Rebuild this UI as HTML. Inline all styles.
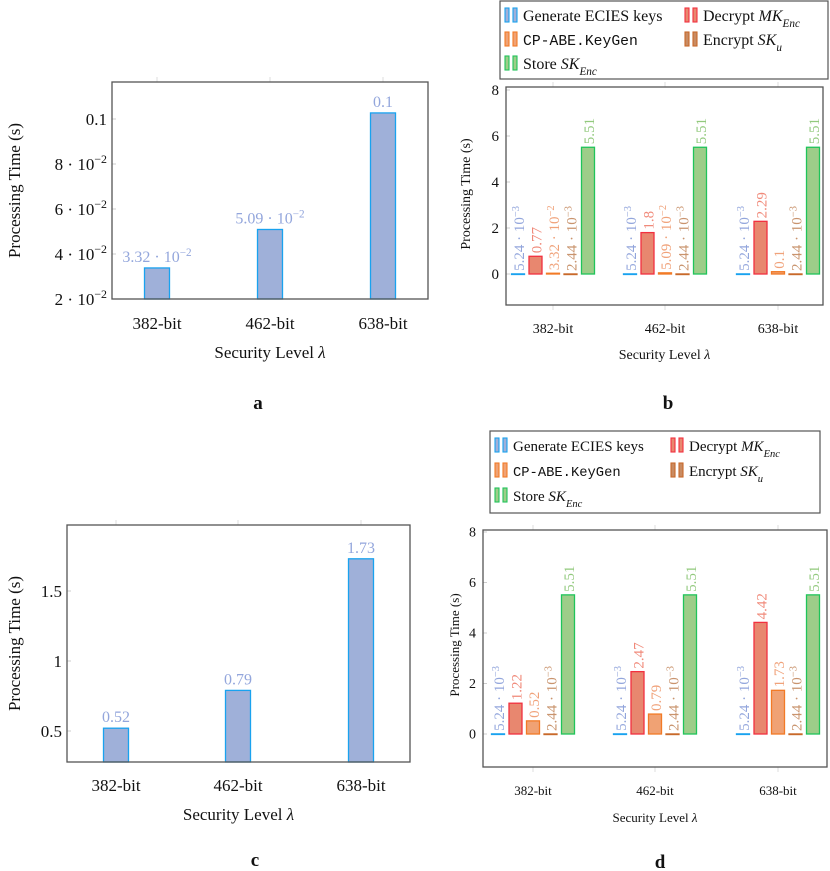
<!DOCTYPE html>
<html><head><meta charset="utf-8"><style>
html,body{margin:0;padding:0;background:#fff;}
svg{display:block;font-family:"Liberation Serif",serif;}
</style></head><body>
<svg id="fig" width="830" height="871" viewBox="0 0 830 871" xmlns="http://www.w3.org/2000/svg"></svg>
<script>
// ---- data ----
const categories = ["382-bit", "462-bit", "638-bit"];
// panel a
const aValues = [0.0338, 0.0509, 0.1027];
const aLabels = ["3.32 · 10^-2", "5.09 · 10^-2", "0.1"];
const aTicks = [0.02, 0.04, 0.06, 0.08, 0.1];
const aTickLabels = ["2 · 10^-2", "4 · 10^-2", "6 · 10^-2", "8 · 10^-2", "0.1"];
// panel c
const cValues = [0.52, 0.79, 1.73];
const cLabels = ["0.52", "0.79", "1.73"];
const cTicks = [0.5, 1, 1.5];
const cTickLabels = ["0.5", "1", "1.5"];
// panel b series
const seriesNames = ["Generate ECIES keys", "Decrypt MK_Enc", "CP-ABE.KeyGen", "Encrypt SK_u", "Store SK_Enc"];
const bGenerate = [0.00524, 0.00524, 0.00524];
const bDecrypt = [0.77, 1.8, 2.29];
const bKeyGen = [0.0332, 0.0509, 0.1];
const bEncrypt = [0.00244, 0.00244, 0.00244];
const bStore = [5.51, 5.51, 5.51];
const bGenerateL = ["5.24 · 10^-3", "5.24 · 10^-3", "5.24 · 10^-3"];
const bDecryptL = ["0.77", "1.8", "2.29"];
const bKeyGenL = ["3.32 · 10^-2", "5.09 · 10^-2", "0.1"];
const bEncryptL = ["2.44 · 10^-3", "2.44 · 10^-3", "2.44 · 10^-3"];
const bStoreL = ["5.51", "5.51", "5.51"];
// panel d series
const dGenerate = [0.00524, 0.00524, 0.00524];
const dDecrypt = [1.22, 2.47, 4.42];
const dKeyGen = [0.52, 0.79, 1.73];
const dEncrypt = [0.00244, 0.00244, 0.00244];
const dStore = [5.51, 5.51, 5.51];
const dGenerateL = ["5.24 · 10^-3", "5.24 · 10^-3", "5.24 · 10^-3"];
const dDecryptL = ["1.22", "2.47", "4.42"];
const dKeyGenL = ["0.52", "0.79", "1.73"];
const dEncryptL = ["2.44 · 10^-3", "2.44 · 10^-3", "2.44 · 10^-3"];
const dStoreL = ["5.51", "5.51", "5.51"];
const bdTicks = [0, 2, 4, 6, 8];
const bdTickLabels = ["0", "2", "4", "6", "8"];

const NS = "http://www.w3.org/2000/svg";
const svg = document.getElementById("fig");
const fills = ["#9fb0d9", "#e8876f", "#f0a274", "#c98b62", "#9dcd89"];
const strokes = ["#19a2ef", "#f2303f", "#f27a26", "#c8692a", "#1fc45a"];
const lblCol = ["#93a6dc", "#f08a7a", "#f0a27a", "#c9946e", "#92c97d"];

function el(tag, attrs, parent) {
  const e = document.createElementNS(NS, tag);
  for (const k in attrs) e.setAttribute(k, attrs[k]);
  (parent || svg).appendChild(e);
  return e;
}
function setText(t, s) {
  const m = s.match(/^(.*)\^(.*)$/);
  if (m) {
    t.appendChild(document.createTextNode(m[1]));
    const sp = document.createElementNS(NS, "tspan");
    sp.setAttribute("baseline-shift", "super");
    sp.setAttribute("font-size", "70%");
    sp.textContent = m[2].replace("-", "\u2212");
    t.appendChild(sp);
  } else t.textContent = s;
}

function simpleChart(o) {
  const g = el("g", {});
  
  
  const y = v => o.y0 - (v - o.v0) * o.k;
  const x = i => o.xc[i];
  categories.forEach((c, i) => { el("line", {x1: x(i), x2: x(i), y1: o.top - 5, y2: o.top, stroke: "#ddd"}, g); });
  o.ticks.forEach((t, i) => {
    el("line", {x1: o.left, x2: o.left + 4, y1: y(t), y2: y(t), stroke: "#ccc"}, g);
    const tx = el("text", {x: o.left - 5, y: y(t) + o.fs * 0.35, "text-anchor": "end", "font-size": o.fs, fill: "#111"}, g);
    
    
    setText(tx, o.tickLabels[i]);
  });
  o.values.forEach((v, i) => {
    const r = el("rect", {x: x(i) - 12.5, y: y(v), width: 25, height: o.bottom - y(v), fill: fills[0], stroke: strokes[0], "stroke-width": 1.3}, g);
    
    
    const t = el("text", {x: x(i), y: y(v) - 6, "text-anchor": "middle", "font-size": o.fs - 1, fill: lblCol[0]}, g);
    
    
    setText(t, o.labels[i]);
    const xl = el("text", {x: x(i), y: o.xlY, "text-anchor": "middle", "font-size": o.fs, fill: "#111"}, g);
    
    
    xl.textContent = categories[i];
  });
  el("rect", {x: o.left, y: o.top, width: o.right - o.left, height: o.bottom - o.top, fill: "none", stroke: "#555", "stroke-width": 1.3}, g);
  const xt = el("text", {x: (o.left + o.right) / 2, y: o.xtY, "text-anchor": "middle", "font-size": o.fs, fill: "#111"}, g);
  
  
  xt.innerHTML = 'Security Level <tspan font-style="italic">λ</tspan>';
  const yt = el("text", {x: 0, y: 0, "text-anchor": "middle", "font-size": o.fs, fill: "#111", transform: `translate(${o.ytX},${(o.top + o.bottom) / 2}) rotate(-90)`}, g);
  
  
  yt.textContent = "Processing Time (s)";
  const pl = el("text", {x: o.pX, y: o.pY, "text-anchor": "middle", "font-size": 19, "font-weight": "bold", fill: "#111"}, g);
  
  
  pl.textContent = o.panel;
}

function groupChart(o) {
  const g = el("g", {});
  
  
  const y = v => o.y0 - v * o.k;
  const offs = [-35, -17.5, 0, 17.5, 35];
  categories.forEach((c, i) => {
    el("line", {x1: o.xc[i], x2: o.xc[i], y1: o.top - 5, y2: o.top, stroke: "#ddd"}, g);
    el("line", {x1: o.xc[i], x2: o.xc[i], y1: o.bottom, y2: o.bottom + 5, stroke: "#ddd"}, g);
    const xl = el("text", {x: o.xc[i], y: o.xlY, "text-anchor": "middle", "font-size": o.fs, fill: "#111"}, g);
    
    
    xl.textContent = c;
  });
  o.ticks.forEach((t, i) => {
    el("line", {x1: o.left, x2: o.left + 4, y1: y(t), y2: y(t), stroke: "#ccc"}, g);
    const tx = el("text", {x: o.left - 7, y: y(t) + o.fs * 0.35, "text-anchor": "end", "font-size": o.fs + 1, fill: "#111"}, g);
    
    
    tx.textContent = o.tickLabels[i];
  });
  o.series.forEach((vals, s) => {
    vals.forEach((v, i) => {
      const cx = o.xc[i] + offs[s];
      const top = y(v);
      const r = el("rect", {x: cx - 6.5, y: top, width: 13, height: Math.max(o.y0 - top, 0.6), fill: fills[s], stroke: strokes[s], "stroke-width": 1.3}, g);
      
      
      const t = el("text", {x: 0, y: 0, "text-anchor": "start", "font-size": o.lfs, fill: lblCol[s], transform: `translate(${cx + 6},${top - 3}) rotate(-90)`}, g);
      
      
      setText(t, o.labels[s][i]);
    });
  });
  el("rect", {x: o.left, y: o.top, width: o.right - o.left, height: o.bottom - o.top, fill: "none", stroke: "#555", "stroke-width": 1.3}, g);
  const xt = el("text", {x: (o.left + o.right) / 2, y: o.xtY, "text-anchor": "middle", "font-size": o.fs, fill: "#111"}, g);
  
  
  xt.innerHTML = 'Security Level <tspan font-style="italic">λ</tspan>';
  const yt = el("text", {x: 0, y: 0, "text-anchor": "middle", "font-size": o.fs, fill: "#111", transform: `translate(${o.ytX},${o.ytY}) rotate(-90)`}, g);
  
  
  yt.textContent = "Processing Time (s)";
  const pl = el("text", {x: o.pX, y: o.pY, "text-anchor": "middle", "font-size": 19, "font-weight": "bold", fill: "#111"}, g);
  
  
  pl.textContent = o.panel;
  const L = o.leg;
  const lg = el("g", {}, g);
  
  
  el("rect", {x: L.x, y: L.y, width: L.w, height: L.h, fill: "#fff", stroke: "#555", "stroke-width": 1.2}, lg);
  const pos = [[0, 0], [1, 0], [0, 1], [1, 1], [0, 2]];
  const html = [
    'Generate ECIES keys',
    'Decrypt <tspan font-style="italic">MK</tspan><tspan font-style="italic" font-size="70%" baseline-shift="sub">Enc</tspan>',
    '<tspan font-family="Liberation Mono, monospace" font-size="92%">CP-ABE.KeyGen</tspan>',
    'Encrypt <tspan font-style="italic">SK</tspan><tspan font-style="italic" font-size="70%" baseline-shift="sub">u</tspan>',
    'Store <tspan font-style="italic">SK</tspan><tspan font-style="italic" font-size="70%" baseline-shift="sub">Enc</tspan>'
  ];
  pos.forEach((p, s) => {
    const ex = L.x + 5 + p[0] * L.col2;
    const ey = L.y + 7 + p[1] * L.rowH;
    const e = el("g", {}, lg);
    
    
    el("rect", {x: ex, y: ey, width: 4, height: 14, fill: fills[s], stroke: strokes[s], "stroke-width": 1.1}, e);
    el("rect", {x: ex + 8, y: ey, width: 4, height: 14, fill: fills[s], stroke: strokes[s], "stroke-width": 1.1}, e);
    const t = el("text", {x: ex + 18, y: ey + 13, "font-size": L.fs, fill: "#111"}, e);
    t.innerHTML = html[s];
  });
}

simpleChart({name: "chart-a", panel: "a", left: 112, right: 428, top: 82, bottom: 299, y0: 299, v0: 0.02, k: 45 / 0.02,
  xc: [157, 270, 383], values: aValues, labels: aLabels, ticks: aTicks, tickLabels: aTickLabels,
  fs: 17, xlY: 329, xtY: 358, ytX: 20, pX: 258, pY: 409});
simpleChart({name: "chart-c", panel: "c", left: 67, right: 410, top: 525, bottom: 762, y0: 731, v0: 0.5, k: 140,
  xc: [116, 238, 361], values: cValues, labels: cLabels, ticks: cTicks, tickLabels: cTickLabels,
  fs: 17, xlY: 791, xtY: 820, ytX: 20, pX: 255, pY: 866});
groupChart({name: "chart-b", panel: "b", left: 506, right: 823, top: 87, bottom: 305, y0: 274, k: 23,
  xc: [553, 665, 778], series: [bGenerate, bDecrypt, bKeyGen, bEncrypt, bStore],
  labels: [bGenerateL, bDecryptL, bKeyGenL, bEncryptL, bStoreL], ticks: bdTicks, tickLabels: bdTickLabels,
  fs: 14, lfs: 15, xlY: 333, xtY: 359, ytX: 470, ytY: 194, pX: 668, pY: 409,
  leg: {x: 500, y: 1, w: 328, h: 78, col2: 180, rowH: 24, fs: 16}});
groupChart({name: "chart-d", panel: "d", left: 483, right: 827, top: 530, bottom: 767, y0: 734, k: 25.25,
  xc: [533, 655, 778], series: [dGenerate, dDecrypt, dKeyGen, dEncrypt, dStore],
  labels: [dGenerateL, dDecryptL, dKeyGenL, dEncryptL, dStoreL], ticks: bdTicks, tickLabels: bdTickLabels,
  fs: 13, lfs: 15, xlY: 795, xtY: 822, ytX: 459, ytY: 645, pX: 660, pY: 868,
  leg: {x: 490, y: 431, w: 330, h: 82, col2: 176, rowH: 25, fs: 15}});
</script>
</body></html>
